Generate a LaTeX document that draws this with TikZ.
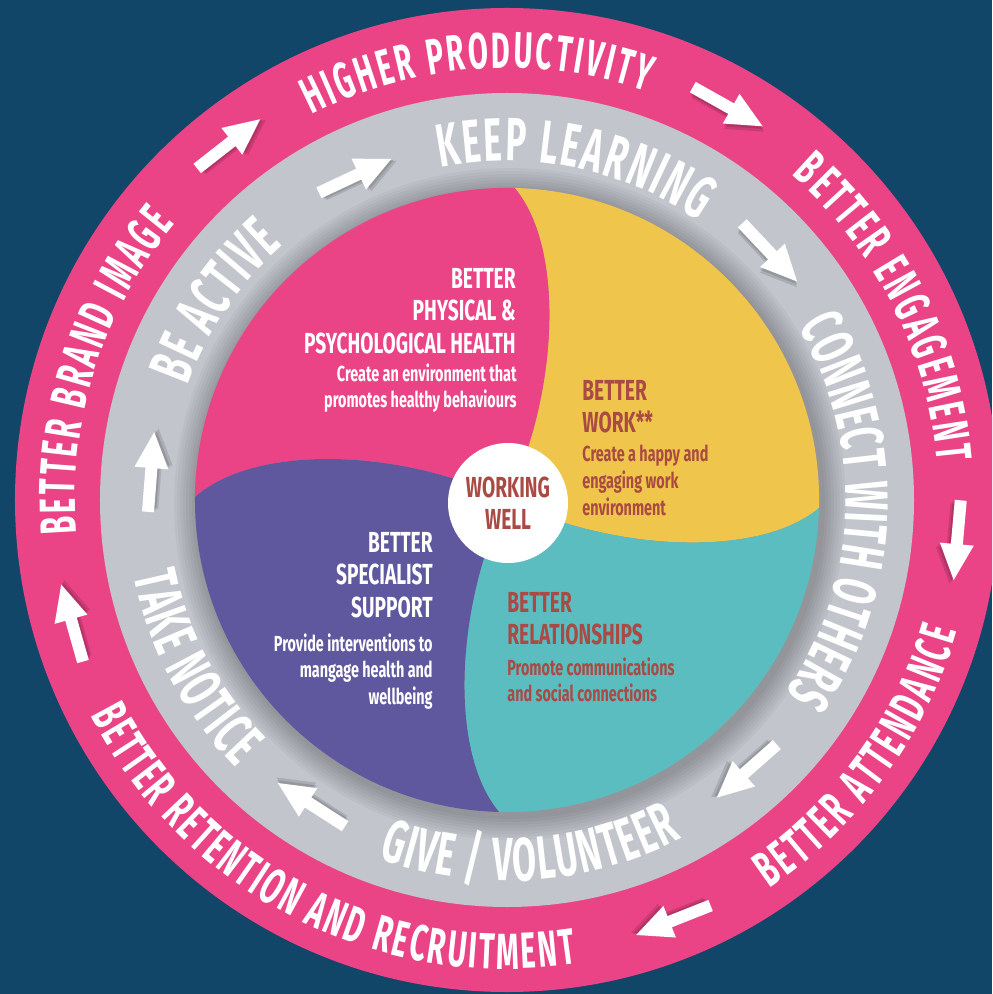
\documentclass[tikz,border=0pt]{standalone}
\usepackage{fontspec}
\setmainfont[FakeStretch=0.66]{Fira Sans}
\newfontfamily\ringfont[FakeStretch=0.57]{Fira Sans}
\usetikzlibrary{decorations.text}
\definecolor{bgblue}{RGB}{17,70,105}
\definecolor{ringpink}{RGB}{234,68,135}
\definecolor{ringgray}{RGB}{194,197,204}
\definecolor{workyellow}{RGB}{240,197,75}
\definecolor{relteal}{RGB}{91,189,191}
\definecolor{suppurple}{RGB}{95,88,159}
\definecolor{textred}{RGB}{169,74,69}
\newcommand\ringtext[5]{\path[decorate,decoration={text along path,text align=fit to path,text color=white,
  text={|\fontsize{#4}{#4}\ringfont\bfseries|#5}}] (#1:#3) arc[start angle=#1,end angle=#2,radius=#3];}
\begin{document}
\begin{tikzpicture}[x=0.5pt,y=0.5pt,
  headtext/.style={font=\fontsize{14.5}{16.25}\selectfont\bfseries,inner sep=0},
  bodytext/.style={font=\fontsize{10.9}{13.4}\selectfont\bfseries,inner sep=0},
  onring/.style 2 args={shift={(#1:#2)},rotate=#1-90}]
 \clip (-507,-494) rectangle (485,500);
 \fill[bgblue] (-507,-494) rectangle (485,500);
 \fill[ringpink] (0,0) circle (492);
 \fill[ringgray] (0,0) circle (407);
 \foreach \k in {1,...,8} \fill[black,opacity=0.03] (3,-4) circle[radius=312+3*\k];
 % the four parts of the disc
 \fill[ringpink] (0,0) .. controls (50,100) and (60,250) .. (8,312) arc[start angle=88.53,end angle=179.45,radius=312.1] .. controls (-250,58) and (-100,50) .. (0,0) -- cycle;
 \fill[workyellow] (0,0) .. controls (100,-50) and (250,-60) .. (312,-8) arc[start angle=-1.47,end angle=88.53,radius=312.1] .. controls (60,250) and (50,100) .. (0,0) -- cycle;
 \fill[relteal] (0,0) .. controls (-50,-100) and (-60,-250) .. (-8,-312) arc[start angle=-91.47,end angle=-1.47,radius=312.1] .. controls (250,-60) and (100,-50) .. (0,0) -- cycle;
 \fill[suppurple] (0,0) .. controls (-100,50) and (-250,58) .. (-312,3) arc[start angle=179.45,end angle=268.53,radius=312.1] .. controls (-60,-250) and (-50,-100) .. (0,0) -- cycle;
 \node[circle,fill=white,minimum size=60pt,inner sep=0,headtext,text=textred,align=center] (hub) at (1,-3) {WORKING\\WELL};
 % texts of the parts
 \node[headtext,white,anchor=north east,align=right] (physhead) at (9,232) {BETTER\\PHYSICAL \&\\PSYCHOLOGICAL HEALTH};
 \node[bodytext,white,anchor=north east,align=right] (physbody) at (10,137) {Create an environment that\\promotes healthy behaviours};
 \node[headtext,textred,anchor=north west,align=left] (workhead) at (75,120) {BETTER\\WORK**};
 \node[bodytext,textred,anchor=north west,align=left] (workbody) at (75,55) {Create a happy and\\engaging work\\environment};
 \node[headtext,white,anchor=north east,align=right] (supphead) at (-74,-32) {BETTER\\SPECIALIST\\SUPPORT};
 \node[bodytext,white,anchor=north east,align=right] (suppbody) at (-74,-133) {Provide interventions to\\mangage health and\\wellbeing};
 \node[headtext,textred,anchor=north west,align=left] (relhead) at (0,-92) {BETTER\\RELATIONSHIPS};
 \node[bodytext,textred,anchor=north west,align=left] (relbody) at (0,-157) {Promote communications\\and social connections};
 % texts on the rings
 \ringtext{116.9}{71.1}{432}{25.4}{HIGHER PRODUCTIVITY}
 \ringtext{48.8}{5}{432}{25.4}{BETTER ENGAGEMENT}
 \ringtext{-56}{-16.2}{469}{25.4}{BETTER ATTENDANCE}
 \ringtext{207.4}{278.5}{469}{25.4}{BETTER RETENTION AND RECRUITMENT}
 \ringtext{184.5}{140.3}{432}{25.4}{BETTER BRAND IMAGE}
 \ringtext{101.3}{55.6}{339}{30.5}{KEEP LEARNING}
 \ringtext{30.7}{-34.7}{339}{30.5}{CONNECT WITH OTHERS}
 \ringtext{250.3}{297.3}{381}{30.5}{GIVE / VOLUNTEER}
 \ringtext{191.5}{224.7}{381}{30.5}{TAKE NOTICE}
 \ringtext{160.3}{131.3}{339}{30.5}{BE ACTIVE}
 % arrows
 \foreach \ang/\rad in {128/452,60.7/451,-5.1/452,-68.4/452,195.8/452,115.1/358,43.3/361,-48.5/362,-122.7/362,175.5/357}{
  \fill[black,opacity=0.12,onring={\ang}{\rad},xshift=1pt,yshift=-1pt] (-40,-6) -- (4,-6) -- (4,-17) -- (40,0) -- (4,17) -- (4,6) -- (-40,6) -- cycle;
  \fill[black,opacity=0.12,onring={\ang}{\rad},xshift=2pt,yshift=-2pt] (-40,-6) -- (4,-6) -- (4,-17) -- (40,0) -- (4,17) -- (4,6) -- (-40,6) -- cycle;
  \fill[white,onring={\ang}{\rad}] (-40,-6) -- (4,-6) -- (4,-17) -- (40,0) -- (4,17) -- (4,6) -- (-40,6) -- cycle;
 }
\end{tikzpicture}
\end{document}
